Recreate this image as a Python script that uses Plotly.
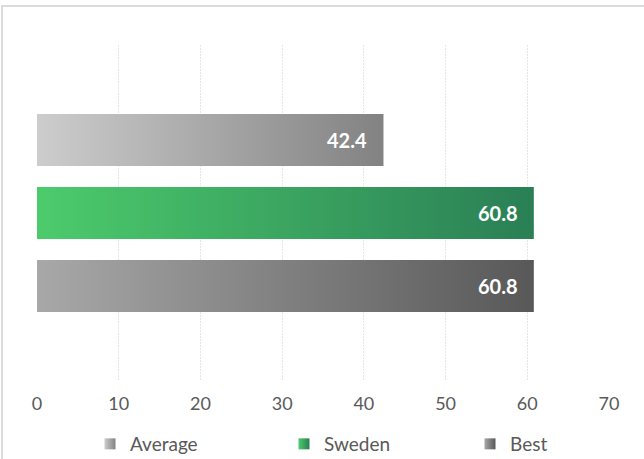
import plotly.graph_objects as go

categories = ["Average", "Sweden", "Best"]
values = [42.4, 60.8, 60.8]
grad_start = ["#cdcdcd", "#4ccb6c", "#a8a8a8"]
grad_end = ["#828282", "#2a7f55", "#585858"]
x_ticks = [0, 10, 20, 30, 40, 50, 60, 70]

BAR_HALF = 0.355
FONT = "Lato"
W, H = 644, 459

fig = go.Figure()

for i, (cat, v) in enumerate(zip(categories, values)):
    fig.add_trace(go.Scatter(
        x=[0, v, v, 0, 0],
        y=[i - BAR_HALF, i - BAR_HALF, i + BAR_HALF, i + BAR_HALF, i - BAR_HALF],
        mode="lines", line=dict(width=0), fill="toself",
        fillgradient=dict(type="horizontal",
                          colorscale=[[0, grad_start[i]], [1, grad_end[i]]]),
        showlegend=False, hoverinfo="skip", name=cat,
    ))

legend_names = ["legend", "legend2", "legend3"]
legend_px = [90, 284, 470]
for i, cat in enumerate(categories):
    fig.add_trace(go.Scatter(
        x=[None], y=[None], mode="markers", name=cat, legend=legend_names[i],
        marker=dict(symbol="square", size=11, color=grad_start[i],
                    gradient=dict(type="horizontal", color=grad_end[i])),
    ))

for i, v in enumerate(values):
    fig.add_annotation(x=v, y=i, text=f"<b>{v}</b>", showarrow=False,
                       xanchor="right", xshift=-14,
                       font=dict(family=FONT, size=20, color="white"))

# chart-area border
fig.add_shape(type="rect", xref="paper", yref="paper",
              x0=-0.0612, x1=1.08, y0=-0.3, y1=1.116,
              line=dict(color="#d0d0d0", width=1.5), layer="below")

legend_style = dict(orientation="h", xref="container", yref="container",
                    y=1 - 444 / H, xanchor="left", yanchor="middle",
                    font=dict(size=19, color="#595959"), itemwidth=30,
                    bgcolor="rgba(0,0,0,0)")

fig.update_layout(
    width=W, height=H,
    margin=dict(l=37, r=35, t=45, b=78),
    paper_bgcolor="white", plot_bgcolor="white",
    font=dict(family=FONT, color="#595959"),
    xaxis=dict(range=[0, 70], tickvals=x_ticks, showgrid=True,
               gridcolor="#e6e6e6", griddash="2px,1px", gridwidth=1,
               zeroline=False, showline=False, ticks="",
               tickfont=dict(size=18, color="#595959"), ticklabelstandoff=10),
    yaxis=dict(range=[2 + 1.3, -1.3], showticklabels=False, showgrid=False,
               zeroline=False, showline=False),
    legend=dict(legend_style, x=legend_px[0] / W),
    legend2=dict(legend_style, x=legend_px[1] / W),
    legend3=dict(legend_style, x=legend_px[2] / W),
)

fig.write_html("out.html", config={"displayModeBar": False},
               post_script="document.body.style.margin='0';")
